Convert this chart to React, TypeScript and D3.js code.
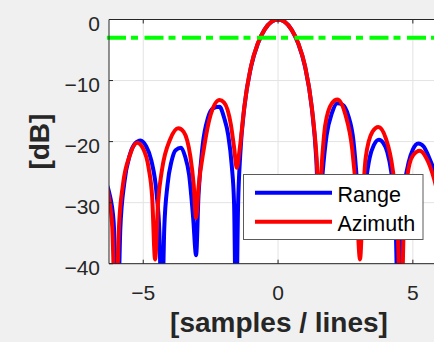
import React from 'react';
import * as d3 from 'd3';

// axis ticks
const xTicks = [-5, 0, 5];
const yTicks = [0, -10, -20, -30, -40];
const halfPowerDb = -3;

// Range response
const rangeX = [-6.4, -6.26, -6.1, -5.95, -5.85, -5.7, -5.5, -5.3, -5.1, -4.9, -4.7, -4.5, -4.4, -4.31, -4.22, -4.1, -3.95, -3.8, -3.6, -3.45, -3.3, -3.15, -3.04, -2.95, -2.8, -2.6, -2.4, -2.17, -2.0, -1.85, -1.72, -1.63, -1.56, -1.48, -1.4, -1.25, -1.0, -0.75, -0.5, -0.25, 0, 0.25, 0.5, 0.75, 1.0, 1.25, 1.42, 1.52, 1.65, 1.8, 2.0, 2.2, 2.4, 2.6, 2.8, 2.93, 3.04, 3.13, 3.25, 3.4, 3.55, 3.74, 3.9, 4.05, 4.2, 4.35, 4.46, 4.55, 4.7, 4.85, 5.0, 5.2, 5.4, 5.6, 5.78, 6.0];
const rangeDb = [-26.5, -28.4, -33, -50, -34.3, -26.7, -22.2, -20.3, -19.8, -20.7, -23.1, -28.7, -35, -50, -34.2, -27.1, -23.2, -21.4, -21.0, -22.4, -25.4, -32.4, -38.6, -28.8, -20.7, -16.1, -14.5, -14.3, -16.1, -18.9, -23.8, -30.3, -50, -30, -22, -14.4, -7.7, -3.95, -1.66, -0.4, 0, -0.4, -1.66, -3.95, -7.7, -14.4, -23, -33, -25.3, -19, -15.3, -13.7, -14, -15.7, -20, -26.7, -34.5, -31, -26.7, -22.6, -20.6, -19.7, -20.2, -21.7, -25, -31.7, -50, -35, -26.9, -23.3, -21.3, -20.3, -20.8, -22.6, -24.6, -28];

// Azimuth response
const azimuthX = [-6.4, -6.26, -6.15, -6.02, -5.9, -5.75, -5.5, -5.23, -5.0, -4.8, -4.67, -4.56, -4.45, -4.3, -4.0, -3.7, -3.5, -3.25, -3.13, -3.04, -2.95, -2.75, -2.5, -2.17, -2.0, -1.75, -1.63, -1.53, -1.43, -1.25, -1.0, -0.75, -0.5, -0.25, 0, 0.25, 0.5, 0.75, 1.0, 1.25, 1.42, 1.53, 1.64, 1.75, 2.0, 2.2, 2.5, 2.75, 2.9, 3.04, 3.15, 3.25, 3.5, 3.72, 4.0, 4.25, 4.42, 4.56, 4.68, 4.8, 5.0, 5.26, 5.5, 5.78, 6.0, 6.2];
const azimuthDb = [-26.5, -29.5, -34, -50, -34, -27, -22.3, -20.2, -21.2, -24.3, -29, -39.3, -30, -24.5, -19.6, -17.8, -18.4, -22.5, -27, -32.5, -27.5, -21.1, -15.6, -13.2, -13.6, -17.2, -21, -24.3, -21.5, -14.3, -7.6, -3.9, -1.65, -0.4, 0, -0.4, -1.65, -3.9, -7.6, -14.3, -22, -30, -22.5, -17.3, -13.7, -13.1, -15.6, -21.2, -28.5, -39.3, -29, -22.7, -18.4, -17.6, -19.5, -24.5, -32, -50, -31, -25.5, -22.3, -21.5, -22.7, -26, -30, -34];

const series = [
  { name: 'Range', xs: rangeX, ys: rangeDb, color: '#0000ff' },
  { name: 'Azimuth', xs: azimuthX, ys: azimuthDb, color: '#ff0000' },
];

const W = 434;
const H = 342;
const font = '"Liberation Sans", Arial, Helvetica, sans-serif';
const textColor = '#262626';

const App = () => {
  const x = d3.scaleLinear().domain([-6.27, 6.27]).range([109, 447.1]);
  const y = d3.scaleLinear().domain([-40, 0]).range([263.7, 19.5]);
  const fmt = d3.format('d');
  const [x0, x1] = x.range();
  const [yb, yt] = y.range();

  const line = d3.line<number>()
    .curve(d3.curveMonotoneX);

  return (
    <svg width={W} height={H} style={{ position: 'absolute', left: 0, top: 0 }} fontFamily={font}>
      <defs>
        <clipPath id="plotClip">
          <rect x={x0} y={yt} width={x1 - x0} height={yb - yt} />
        </clipPath>
      </defs>
      <rect x={0} y={0} width={W} height={H} fill="#f0f0f0" />
      <rect x={x0} y={yt} width={x1 - x0} height={yb - yt} fill="#ffffff" />

      {/* grid */}
      {xTicks.map((t) => (
        <line key={'gx' + t} x1={x(t)} x2={x(t)} y1={yt} y2={yb} stroke="#e3e3e3" strokeWidth={1} />
      ))}
      {yTicks.map((t) => (
        <line key={'gy' + t} x1={x0} x2={x1} y1={y(t)} y2={y(t)} stroke="#e3e3e3" strokeWidth={1} />
      ))}

      {/* curves */}
      <g clipPath="url(#plotClip)">
        {series.map((s) => {
          const pts = s.xs.map((v, i) => [x(v), y(s.ys[i])] as [number, number]);
          return (
            <path key={s.name} d={d3.line().curve(d3.curveMonotoneX)(pts) || ''} fill="none"
              stroke={s.color} strokeWidth={4} strokeLinejoin="round" />
          );
        })}
      </g>

      {/* -3 dB line */}
      <line x1={x0 - 2} x2={W} y1={y(halfPowerDb)} y2={y(halfPowerDb)} stroke="#00ff00" strokeWidth={4}
        strokeDasharray="19,5,7,6.5" />

      {/* axes box */}
      <line x1={x0} x2={x1} y1={yt} y2={yt} stroke={textColor} strokeWidth={1} />
      <line x1={x0} x2={x1} y1={yb} y2={yb} stroke={textColor} strokeWidth={1} />
      <line x1={x0} x2={x0} y1={yt} y2={yb} stroke={textColor} strokeWidth={1} />
      {xTicks.map((t) => (
        <g key={'tx' + t}>
          <line x1={x(t)} x2={x(t)} y1={yb} y2={yb - 4} stroke={textColor} />
          <line x1={x(t)} x2={x(t)} y1={yt} y2={yt + 4} stroke={textColor} />
          <text x={x(t)} y={299.5} textAnchor="middle" fontSize={21} fill={textColor}>{fmt(t)}</text>
        </g>
      ))}
      {yTicks.map((t) => (
        <g key={'ty' + t}>
          <line x1={x0} x2={x0 + 4} y1={y(t)} y2={y(t)} stroke={textColor} />
          <text x={100} y={y(t) + 11} textAnchor="end" fontSize={21} fill={textColor}>{fmt(t)}</text>
        </g>
      ))}

      {/* axis labels */}
      <text x={279} y={332} textAnchor="middle" fontSize={28} fontWeight="bold" fill={textColor}>[samples / lines]</text>
      <text transform={`translate(48.5,${(yt + yb) / 2}) rotate(-90)`} textAnchor="middle" fontSize={28}
        fontWeight="bold" fill={textColor}>[dB]</text>

      {/* legend */}
      <g>
        <rect x={243.5} y={174.5} width={179.5} height={65} fill="#ffffff" stroke="#5a5a5a" strokeWidth={1} />
        {series.map((s, i) => (
          <g key={'lg' + s.name}>
            <line x1={255} x2={332} y1={192.7 + i * 29} y2={192.7 + i * 29} stroke={s.color} strokeWidth={4} />
            <text x={337.5} y={201.5 + i * 29} fontSize={21.5} fill="#000000">{s.name}</text>
          </g>
        ))}
      </g>
    </svg>
  );
};

export default App;
